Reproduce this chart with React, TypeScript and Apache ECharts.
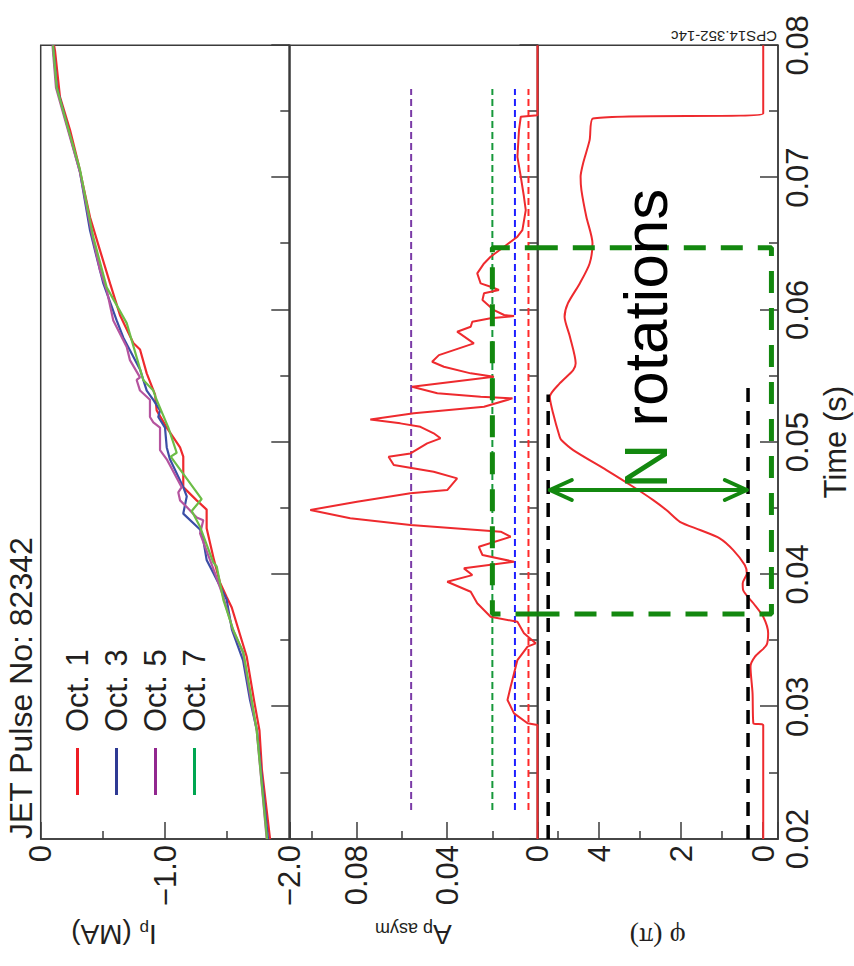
import React, { useEffect, useRef } from 'react';
import * as echarts from 'echarts';

// ---------------- data ----------------
const timeRange = [0.02, 0.08];
const ipRange = [-2, 0];
const apRange = [0, 0.11];
const phiRange = [-0.36, 5.5];

const octNames = ['Oct. 1', 'Oct. 3', 'Oct. 5', 'Oct. 7'];
const octColors = ['#ee2a2e', '#3b4ea6', '#b5549f', '#6cbd47'];
const octLegendColors = ['#ed1c24', '#2e3a94', '#92278f', '#00a651'];

// [time (s), Ip (MA)]
const ipOct1 = [
  [0.02, -1.845], [0.0252, -1.78], [0.0282, -1.76], [0.0305, -1.716], [0.0338, -1.657], [0.0375, -1.537],
  [0.0383, -1.496], [0.0394, -1.442], [0.0411, -1.394], [0.0435, -1.335], [0.0449, -1.335], [0.0456, -1.255],
  [0.0466, -1.147], [0.0489, -1.147], [0.0496, -1.121], [0.0511, -1.014], [0.0524, -0.933], [0.0536, -0.92],
  [0.0552, -0.853], [0.057, -0.799], [0.0575, -0.745], [0.0596, -0.638], [0.062, -0.558], [0.0645, -0.477],
  [0.067, -0.397], [0.0711, -0.302], [0.0736, -0.236], [0.0761, -0.155], [0.0796, -0.115], [0.08, -0.107],
];
const ipOct3 = [
  [0.02, -1.829], [0.0282, -1.74], [0.0305, -1.684], [0.0335, -1.628], [0.0358, -1.539], [0.0381, -1.496],
  [0.0401, -1.389], [0.0411, -1.335], [0.0426, -1.308], [0.0434, -1.282], [0.0446, -1.147], [0.0459, -1.175],
  [0.0466, -1.147], [0.0487, -1.04], [0.0496, -1.014], [0.0511, -1.0], [0.0519, -0.946], [0.0524, -0.96],
  [0.0532, -0.906], [0.0539, -0.853], [0.0555, -0.799], [0.0579, -0.665], [0.0592, -0.611], [0.062, -0.504],
  [0.0635, -0.463], [0.066, -0.397], [0.0704, -0.316], [0.074, -0.212], [0.0768, -0.131], [0.08, -0.099],
];
const ipOct5 = [
  [0.02, -1.818], [0.0282, -1.738], [0.0305, -1.692], [0.0341, -1.628], [0.0358, -1.547], [0.0383, -1.469],
  [0.0401, -1.402], [0.0431, -1.282], [0.0441, -1.308], [0.0443, -1.255], [0.0451, -1.175], [0.0456, -1.121],
  [0.0462, -1.107], [0.0466, -1.134], [0.0487, -1.014], [0.0494, -0.96], [0.0511, -0.96], [0.0515, -0.906],
  [0.0519, -0.879], [0.0532, -0.879], [0.0539, -0.799], [0.0547, -0.772], [0.0549, -0.799], [0.0562, -0.718],
  [0.0572, -0.692], [0.0592, -0.584], [0.0615, -0.531], [0.063, -0.477], [0.0657, -0.413], [0.0704, -0.316],
  [0.0741, -0.204], [0.0768, -0.123], [0.08, -0.095],
];
const ipOct7 = [
  [0.02, -1.821], [0.0282, -1.738], [0.0305, -1.698], [0.0341, -1.63], [0.0358, -1.549], [0.0381, -1.469],
  [0.0406, -1.416], [0.0409, -1.389], [0.0436, -1.282], [0.0448, -1.215], [0.0457, -1.295], [0.0489, -1.046],
  [0.0492, -1.094], [0.0511, -1.027], [0.0533, -0.928], [0.0539, -0.906], [0.0547, -0.825], [0.059, -0.692],
  [0.0617, -0.531], [0.0655, -0.423], [0.0706, -0.316], [0.0741, -0.209], [0.0768, -0.129], [0.08, -0.099],
];
const ipSeriesData = [ipOct1, ipOct3, ipOct5, ipOct7];

// [time (s), A_p asym]
const apAsym = [
  [0.02, 0], [0.02862, 0], [0.02875, 0.0044], [0.0295, 0.0104], [0.03051, 0.0133], [0.03151, 0.0119],
  [0.03353, 0.0089], [0.03454, 0.0044], [0.03479, 0.0008], [0.03555, 0.006], [0.03642, 0.0089], [0.0368, 0.0208],
  [0.03782, 0.0267], [0.03869, 0.0296], [0.03945, 0.04], [0.03995, 0.0289], [0.04046, 0.0326], [0.04096, 0.0104],
  [0.04147, 0.0244], [0.04209, 0.026], [0.04285, 0.0119], [0.04323, 0.0163], [0.04373, 0.0563], [0.04424, 0.083],
  [0.04487, 0.1007], [0.0455, 0.08], [0.04613, 0.0563], [0.04638, 0.04], [0.04726, 0.0356], [0.04776, 0.046],
  [0.04827, 0.0637], [0.0489, 0.066], [0.04915, 0.0563], [0.04991, 0.0489], [0.05029, 0.043], [0.05067, 0.046],
  [0.05116, 0.0519], [0.05142, 0.0608], [0.05172, 0.0741], [0.05218, 0.0548], [0.05268, 0.0237], [0.05331, 0.0111],
  [0.05343, 0.0252], [0.05369, 0.0444], [0.05419, 0.0556], [0.05494, 0.0193], [0.0552, 0.0296], [0.0557, 0.0415],
  [0.05608, 0.0467], [0.05658, 0.0437], [0.05696, 0.0371], [0.05747, 0.0282], [0.05835, 0.0356], [0.05872, 0.0296],
  [0.0591, 0.0289], [0.05936, 0.0208], [0.05953, 0.0104], [0.05961, 0.0148], [0.05998, 0.0193], [0.06074, 0.0244],
  [0.06125, 0.0237], [0.0615, 0.0171], [0.06175, 0.0208], [0.062, 0.0252], [0.06276, 0.0267], [0.06351, 0.0237],
  [0.06402, 0.0208], [0.06477, 0.0148], [0.06553, 0.0089], [0.06603, 0.0067], [0.06754, 0.0052], [0.06855, 0.006],
  [0.07006, 0.0074], [0.07157, 0.0089], [0.07359, 0.0082], [0.0746, 0.0074], [0.07472, 0], [0.08, 0],
];

// [time (s), phi (pi)]
const phiData = [
  [0.02, 0], [0.02862, 0], [0.02875, 0.24], [0.03101, 0.26], [0.03302, 0.31], [0.03378, 0.2], [0.03466, -0.08],
  [0.03555, -0.12], [0.0368, 0.0], [0.03782, 0.24], [0.03882, 0.49], [0.03933, 0.5], [0.04008, 0.4], [0.04071, 0.45],
  [0.04184, 0.73], [0.04273, 1.06], [0.04336, 1.54], [0.04398, 2.03], [0.04487, 2.36], [0.04562, 2.68],
  [0.04663, 3.17], [0.04789, 3.82], [0.0494, 4.63], [0.05016, 4.92], [0.05041, 4.96], [0.05218, 5.12],
  [0.05343, 5.2], [0.05444, 4.96], [0.05545, 4.63], [0.05596, 4.57], [0.05797, 4.71], [0.05948, 4.84],
  [0.06049, 4.76], [0.062, 4.47], [0.06351, 4.23], [0.06503, 4.16], [0.06704, 4.31], [0.06906, 4.43],
  [0.07006, 4.45], [0.07107, 4.39], [0.07283, 4.23], [0.07447, 4.15], [0.07485, 0], [0.08, 0],
];

// dashed reference levels in the A panel
const thresholdLevels = [0.056, 0.02, 0.01, 0.004];
const thresholdColors = ['#7a3aa6', '#16983a', '#1f1fff', '#ff2a2a'];
const thresholdSpan = [0.0222, 0.0767];

// green dashed box (time extent, A level, phi level)
const boxTime = [0.037, 0.0647];
const boxAp = 0.02;
const boxPhi = -0.2;

// black dashed phi levels [phi, end time]
const rangeLines = [
  [5.24, 0.0536],
  [0.37, 0.0542],
];

// double arrow and its label
const arrowTime = 0.04638;
const arrowPhi = [5.2, 0.4];
const labelAnchor = [0.0465, 2.87];

// ---------------- styles ----------------
const FONT = '"Liberation Sans", Arial, Helvetica, sans-serif';
const SERIF = '"Liberation Serif", "Times New Roman", serif';
const AX = '#3b3b3b';
const TXT = '#231f20';
const GREEN = '#13880f';

const tickStyle = { color: AX, width: 1.5 };

function timeAxis(i: number) {
  return {
    type: 'value',
    gridIndex: i,
    min: timeRange[0],
    max: timeRange[1],
    interval: 0.01,
    axisLine: { show: true, onZero: false, lineStyle: tickStyle },
    axisTick: { show: true, inside: true, length: 18, lineStyle: tickStyle },
    minorTick: { show: true, splitNumber: 2, length: 9, lineStyle: tickStyle },
    splitLine: { show: false },
    minorSplitLine: { show: false },
    axisLabel: {
      show: i === 2,
      fontSize: 31,
      color: TXT,
      fontFamily: FONT,
      margin: 4,
      formatter: (v: number) => v.toFixed(2),
    },
    name: i === 2 ? 'Time (s)' : '',
    nameLocation: 'middle',
    nameGap: 42,
    nameMoveOverlap: false,
    nameTextStyle: { fontSize: 31, color: TXT, fontFamily: FONT },
  };
}

function valueAxisBase(i: number, gap: number) {
  return {
    type: 'value',
    gridIndex: i,
    position: 'left',
    axisLine: { show: true, onZero: false, lineStyle: tickStyle },
    axisTick: { show: true, inside: true, length: 17, lineStyle: tickStyle },
    minorTick: { show: true, splitNumber: 2, length: 8, lineStyle: tickStyle },
    splitLine: { show: false },
    minorSplitLine: { show: false },
    nameLocation: 'middle',
    nameRotate: 90,
    nameGap: gap,
    nameMoveOverlap: false,
  };
}

const labelStyle = { fontSize: 31, color: TXT, fontFamily: FONT, margin: 6 };

function buildOption() {
  const series: any[] = [];

  ipSeriesData.forEach((d, i) => {
    series.push({
      type: 'line',
      name: octNames[i],
      data: d,
      xAxisIndex: 0,
      yAxisIndex: 0,
      symbol: 'none',
      showSymbol: false,
      lineStyle: { color: octColors[i], width: 2.2 },
      itemStyle: { color: octColors[i] },
      silent: true,
    });
  });

  thresholdLevels.forEach((lv, i) => {
    series.push({
      type: 'line',
      name: 'level' + i,
      data: [
        [thresholdSpan[0], lv],
        [thresholdSpan[1], lv],
      ],
      xAxisIndex: 1,
      yAxisIndex: 1,
      symbol: 'none',
      lineStyle: { color: thresholdColors[i], width: 2, type: [7, 4] },
      silent: true,
    });
  });

  series.push({
    type: 'line',
    name: 'A_p asym',
    data: apAsym,
    xAxisIndex: 1,
    yAxisIndex: 1,
    symbol: 'none',
    lineStyle: { color: '#ee2a2e', width: 2 },
    silent: true,
    clip: false,
  });

  series.push({
    type: 'line',
    name: 'boxA',
    data: [
      [boxTime[0], apRange[0]],
      [boxTime[0], boxAp],
      [boxTime[1], boxAp],
      [boxTime[1], apRange[0]],
    ],
    xAxisIndex: 1,
    yAxisIndex: 1,
    symbol: 'none',
    clip: false,
    lineStyle: { color: GREEN, width: 5, type: [22, 15] },
    silent: true,
    z: 5,
  });

  series.push({
    type: 'line',
    name: 'phi',
    data: phiData,
    xAxisIndex: 2,
    yAxisIndex: 2,
    symbol: 'none',
    smooth: 0.25,
    lineStyle: { color: '#ee2a2e', width: 2 },
    silent: true,
  });

  rangeLines.forEach((r, i) => {
    series.push({
      type: 'line',
      name: 'range' + i,
      data: [
        [timeRange[0], r[0]],
        [r[1], r[0]],
      ],
      xAxisIndex: 2,
      yAxisIndex: 2,
      symbol: 'none',
      clip: false,
      lineStyle: { color: '#000', width: 3.5, type: [14, 9] },
      silent: true,
      z: 4,
    });
  });

  series.push({
    type: 'line',
    name: 'boxPhi',
    data: [
      [boxTime[0], phiRange[1]],
      [boxTime[0], boxPhi],
      [boxTime[1], boxPhi],
      [boxTime[1], phiRange[1]],
    ],
    xAxisIndex: 2,
    yAxisIndex: 2,
    symbol: 'none',
    clip: false,
    lineStyle: { color: GREEN, width: 5, type: [22, 15] },
    silent: true,
    z: 5,
  });

  series.push({
    type: 'custom',
    name: 'arrow',
    xAxisIndex: 2,
    yAxisIndex: 2,
    silent: true,
    clip: false,
    z: 6,
    data: [[arrowTime, arrowPhi[0], arrowPhi[1], labelAnchor[0], labelAnchor[1]]],
    renderItem: (params: any, api: any) => {
      const p1 = api.coord([api.value(0), api.value(1)]);
      const p2 = api.coord([api.value(0), api.value(2)]);
      const lp = api.coord([api.value(3), api.value(4)]);
      const s = { stroke: GREEN, lineWidth: 4, fill: null, lineCap: 'round', lineJoin: 'round' };
      return {
        type: 'group',
        children: [
          { type: 'line', shape: { x1: p1[0], y1: p1[1], x2: p2[0], y2: p2[1] }, style: s },
          {
            type: 'polyline',
            shape: { points: [[p1[0] - 10, p1[1] + 22], [p1[0], p1[1]], [p1[0] + 10, p1[1] + 22]] },
            style: s,
          },
          {
            type: 'polyline',
            shape: { points: [[p2[0] - 10, p2[1] - 22], [p2[0], p2[1]], [p2[0] + 10, p2[1] - 22]] },
            style: s,
          },
          {
            type: 'text',
            x: lp[0],
            y: lp[1],
            style: {
              text: '{n|N} {r|rotations}',
              align: 'left',
              verticalAlign: 'middle',
              fontFamily: FONT,
              fontSize: 62,
              rich: {
                n: { fontSize: 62, fill: GREEN, fontFamily: FONT },
                r: { fontSize: 62, fill: '#000', fontFamily: FONT },
              },
            },
          },
        ],
      };
    },
  });

  return {
    animation: false,
    backgroundColor: '#ffffff',
    textStyle: { fontFamily: FONT },
    title: {
      text: 'JET Pulse No: 82342',
      left: 127,
      top: 5,
      padding: 0,
      textStyle: { fontSize: 32, fontWeight: 'normal', color: TXT, fontFamily: FONT },
    },
    legend: {
      orient: 'vertical',
      left: 171,
      top: 62,
      padding: 0,
      itemWidth: 47,
      itemHeight: 3,
      itemGap: 8,
      icon: 'rect',
      selectedMode: false,
      textStyle: { fontSize: 31, color: TXT, fontFamily: FONT, padding: [0, 0, 0, 11] },
      data: octNames.map((n, i) => ({ name: n, itemStyle: { color: octLegendColors[i] } })),
    },
    grid: [
      { left: 127, right: 45.3, top: 40.7, height: 248.6, show: true, borderColor: AX, borderWidth: 1.5, backgroundColor: 'transparent' },
      { left: 127, right: 45.3, top: 289.3, height: 248.2, show: true, borderColor: AX, borderWidth: 1.5, backgroundColor: 'transparent' },
      { left: 127, right: 45.3, top: 537.5, height: 240.5, show: true, borderColor: AX, borderWidth: 1.5, backgroundColor: 'transparent' },
    ],
    xAxis: [timeAxis(0), timeAxis(1), timeAxis(2)],
    yAxis: [
      {
        ...valueAxisBase(0, 81),
        min: ipRange[0],
        max: ipRange[1],
        interval: 1,
        axisLabel: {
          ...labelStyle,
          formatter: (v: number) => (v === 0 ? '0' : v.toFixed(1).replace('-', '\u2212')),
        },
        name: '{sp| }{a|I}{b|p}{a| (MA)}',
        nameTextStyle: {
          color: TXT,
          fontFamily: FONT,
          fontSize: 28,
          rich: {
            sp: { width: 102, fontSize: 28 },
            a: { fontSize: 28, fontFamily: FONT, color: TXT },
            b: { fontSize: 17, fontFamily: FONT, color: TXT, verticalAlign: 'bottom' },
          },
        },
      },
      {
        ...valueAxisBase(1, 81),
        min: apRange[0],
        max: apRange[1],
        minInterval: 0.04,
        maxInterval: 0.04,
        axisLabel: {
          ...labelStyle,
          showMaxLabel: false,
          formatter: (v: number) => (Math.abs(v) < 1e-9 ? '0' : v.toFixed(2)),
        },
        name: '{a|A}{b|p asym}',
        nameTextStyle: {
          color: TXT,
          fontFamily: FONT,
          fontSize: 28,
          rich: {
            a: { fontSize: 28, fontFamily: FONT, color: TXT },
            b: { fontSize: 18, fontFamily: FONT, color: TXT, verticalAlign: 'bottom' },
          },
        },
      },
      {
        ...valueAxisBase(2, 84),
        min: phiRange[0],
        max: phiRange[1],
        minInterval: 2,
        maxInterval: 2,
        axisLabel: {
          ...labelStyle,
          showMinLabel: false,
          showMaxLabel: false,
          formatter: (v: number) => String(Math.round(v)),
        },
        name: '\u03c6 (\u03c0)',
        nameTextStyle: { color: TXT, fontFamily: SERIF, fontSize: 28 },
      },
    ],
    graphic: [
      {
        type: 'text',
        x: 937,
        y: 777,
        rotation: Math.PI / 2,
        silent: true,
        style: {
          text: 'CPS14.352-14c',
          fontSize: 15,
          fontFamily: FONT,
          fill: TXT,
          align: 'left',
          verticalAlign: 'bottom',
        },
      },
    ],
    series,
  };
}

export default function App() {
  const ref = useRef<HTMLDivElement>(null);
  useEffect(() => {
    if (!ref.current) return;
    const chart = echarts.init(ref.current, null, { renderer: 'svg', width: 966, height: 854 });
    chart.setOption(buildOption() as any);
    return () => chart.dispose();
  }, []);
  return (
    <div
      style={{
        position: 'absolute',
        left: 0,
        top: 0,
        width: 854,
        height: 966,
        overflow: 'hidden',
        background: '#ffffff',
      }}
    >
      <div
        ref={ref}
        style={{
          position: 'absolute',
          left: 0,
          top: 0,
          width: 966,
          height: 854,
          transformOrigin: '0 0',
          transform: 'translateY(966px) rotate(-90deg)',
        }}
      />
    </div>
  );
}
